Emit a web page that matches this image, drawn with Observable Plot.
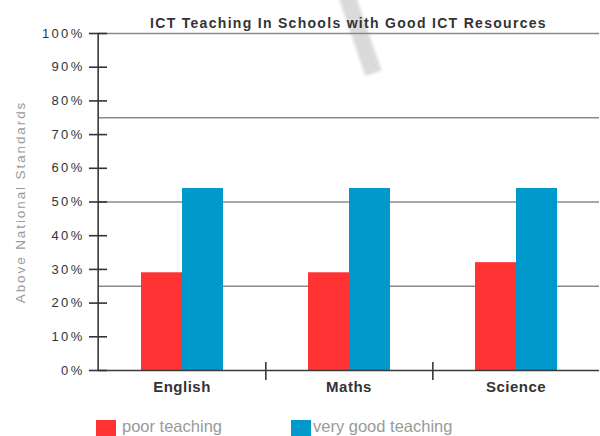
<!DOCTYPE html>
<html>
<head>
<meta charset="utf-8">
<script src="https://cdn.jsdelivr.net/npm/d3@7"></script>
<script src="https://cdn.jsdelivr.net/npm/@observablehq/plot@0.6"></script>
<style>
  html, body { margin: 0; padding: 0; background: #fff; }
  #wrap { position: relative; width: 600px; height: 436px; overflow: hidden; font-family: "Liberation Sans", Arial, sans-serif; }
  #title { position: absolute; left: 97px; width: 503px; top: 15px; line-height: 16px; text-align: center;
           font-size: 14px; font-weight: bold; color: #333; letter-spacing: 1.3px; z-index: 2; }
  #mark { position: absolute; left: 337px; top: -8px; width: 17px; height: 86px; background: #dadada;
          transform-origin: 50% 0; transform: rotate(-19deg); z-index: 0; filter: blur(1.5px); }
  #chart { position: absolute; left: 0; top: 28px; z-index: 1; }
  #legend { position: absolute; top: 417px; left: 0; width: 600px; height: 19px; z-index: 2; }
  .item { position: absolute; top: 0; display: flex; align-items: flex-start; }
  .sw { width: 20px; height: 20px; margin-top: 3px; }
  .lab { font-size: 16.5px; line-height: 19px; color: #9a9a9a; }
  g[aria-label="y-axis tick label"] text { letter-spacing: 2.3px; }
  g[aria-label="fx-axis tick label"] text { letter-spacing: 0.5px; }
  g[aria-label="y-axis label"] text { letter-spacing: 1.9px; }
</style>
</head>
<body>
<div id="wrap">
  <div id="mark"></div>
  <div id="title"></div>
  <div id="chart"></div>
  <div id="legend"></div>
</div>
<script>
const titleText = "ICT Teaching In Schools with Good ICT Resources";
const yLabel = "Above National Standards";
const categories = ["English", "Maths", "Science"];
const seriesNames = ["poor teaching", "very good teaching"];
const poorValues = [29, 29, 32];
const veryGoodValues = [54, 54, 54];
const seriesColors = ["#ff3333", "#0099cc"];
const yTicks = [0, 10, 20, 30, 40, 50, 60, 70, 80, 90, 100];
const gridValues = [25, 50, 75, 100];

const data = categories.flatMap((c, i) => [
  {category: c, series: seriesNames[0], value: poorValues[i]},
  {category: c, series: seriesNames[1], value: veryGoodValues[i]}
]);

document.getElementById("title").textContent = titleText;

const W = 600, ML = 97, MR = 0;
const halfBand = (W - ML - MR) / categories.length / 2;

const chart = Plot.plot({
  width: W,
  height: 382,
  marginLeft: ML,
  marginRight: MR,
  marginTop: 5,
  marginBottom: 40,
  style: {background: "transparent", fontFamily: "'Liberation Sans', Arial, sans-serif", overflow: "visible"},
  fx: {domain: categories, padding: 0, label: null},
  x: {domain: seriesNames, paddingInner: 0, paddingOuter: 1.02, axis: null},
  y: {domain: [0, 100]},
  color: {domain: seriesNames, range: seriesColors},
  marks: [
    Plot.ruleY(gridValues, {stroke: "#8a8a8a", strokeWidth: 1.3}),
    Plot.barY(data, {fx: "category", x: "series", y: "value", fill: "series"}),
    Plot.ruleY([0], {stroke: "#3a3a3a", strokeWidth: 1.6}),
    Plot.ruleX(categories.slice(0, 1), {fx: d => d, x: null, y1: 0, y2: 100, dx: -halfBand, stroke: "#3a3a3a", strokeWidth: 1.6}),
    Plot.ruleX(categories.slice(0, 2), {fx: d => d, x: null, y1: 0, y2: 0, dx: halfBand, insetTop: -8, insetBottom: -10, stroke: "#3a3a3a", strokeWidth: 1.6}),
    Plot.axisY(yTicks, {tickFormat: d => d + "%", tickSize: 18, dx: 9, tickPadding: 5, label: null,
      color: "#333", strokeWidth: 1.6, fontSize: 13}),
    Plot.axisY({ticks: [], tickSize: 0, label: yLabel, labelAnchor: "center", labelArrow: "none", labelOffset: 83,
      color: "#9a9a9a", fontSize: 13.5}),
    Plot.axisFx({anchor: "bottom", tickSize: 0, tickPadding: 11, label: null, fontSize: 15, fontWeight: "bold", color: "#333"})
  ]
});
document.getElementById("chart").appendChild(chart);

const legend = document.getElementById("legend");
const legendLeft = [96, 291];
const legendGap = [6, 2];
seriesNames.forEach((name, i) => {
  const item = document.createElement("div");
  item.className = "item";
  item.style.left = legendLeft[i] + "px";
  const sw = document.createElement("div");
  sw.className = "sw";
  sw.style.background = seriesColors[i];
  sw.style.marginRight = legendGap[i] + "px";
  const lab = document.createElement("span");
  lab.className = "lab";
  lab.textContent = name;
  item.appendChild(sw);
  item.appendChild(lab);
  legend.appendChild(item);
});
</script>
</body>
</html>
